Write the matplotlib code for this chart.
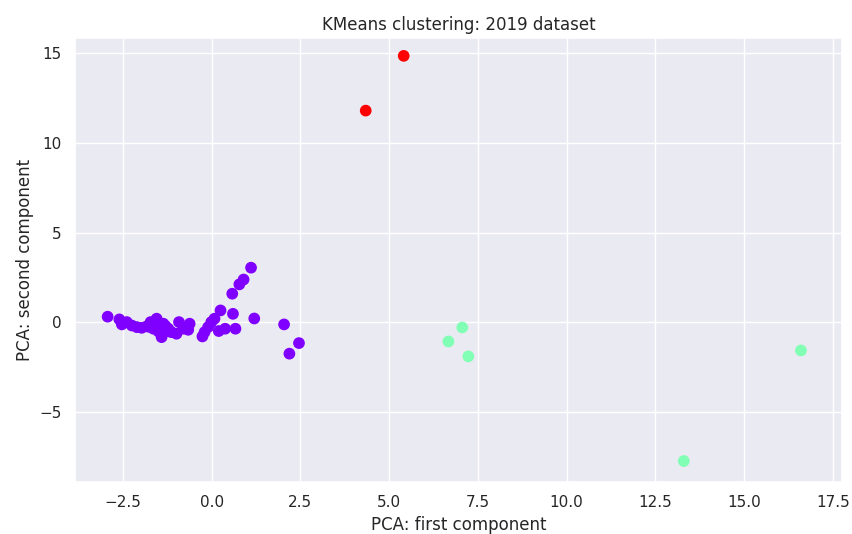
"""KMeans clusters of the 2019 dataset projected on the first two PCA components."""

import matplotlib

matplotlib.use("Agg")
import matplotlib.pyplot as plt
import numpy as np
import seaborn as sns

# PCA coordinates, with the KMeans label of each point
pc1 = [
    -2.93, -2.60, -2.53, -2.39, -2.25, -2.11, -1.97, -1.83, -1.72, -1.64,
    -1.55, -1.51, -1.41, -1.36, -1.32, -1.22, -1.13, -0.99, -0.92, -0.80,
    -0.66, -0.62, -1.75, -1.60, -1.45, -1.30, -1.50, -1.20, -0.26, -0.20,
    -0.10, -0.01, 0.08, 0.25, 0.20, 0.38, 0.60, 0.67, 0.58, 0.78,
    0.90, 1.11, 1.20, 2.04, 2.46, 2.19,
    7.06, 6.67, 7.23, 13.30, 16.60,
    5.41, 4.34,
]
pc2 = [
    0.32, 0.17, -0.11, 0.02, -0.17, -0.26, -0.30, -0.22, 0.02, -0.35,
    0.21, -0.17, -0.82, -0.07, -0.45, -0.35, -0.54, -0.63, 0.02, -0.35,
    -0.41, -0.07, -0.25, -0.10, -0.30, -0.20, -0.50, -0.50, -0.78, -0.54,
    -0.26, 0.02, 0.21, 0.67, -0.48, -0.35, 0.48, -0.35, 1.60, 2.12,
    2.39, 3.05, 0.22, -0.11, -1.15, -1.74,
    -0.28, -1.06, -1.89, -7.72, -1.56,
    14.85, 11.80,
]
labels = [0] * 46 + [1] * 5 + [2] * 2

sns.set_theme(style="darkgrid")

fig = plt.figure(figsize=(8.52, 5.34), dpi=100)
ax = fig.add_axes([0.088, 0.097, 0.900, 0.832])
ax.scatter(pc1, pc2, c=labels, cmap="rainbow", s=55)
ax.set_xlim(-3.85, 17.75)
ax.set_ylim(-8.9, 15.85)
ax.set_xticks(np.arange(-2.5, 17.6, 2.5))
ax.set_xlabel("PCA: first component", fontsize=12)
ax.set_ylabel("PCA: second component", fontsize=12)
ax.set_title("KMeans clustering: 2019 dataset", fontsize=12)
ax.tick_params(labelsize=11)

fig.savefig("out.png", dpi=100)
plt.close(fig)
